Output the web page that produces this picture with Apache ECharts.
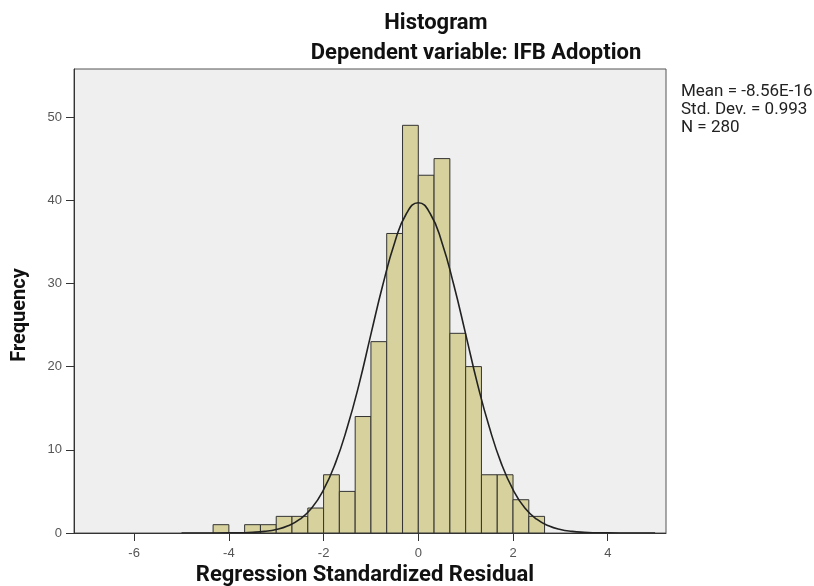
<!DOCTYPE html>
<html>
<head>
<meta charset="utf-8">
<script src="https://cdn.jsdelivr.net/npm/echarts@6/dist/echarts.min.js"></script>
<style>
html,body{margin:0;padding:0;background:#fff;}
#chart{width:814px;height:586px;}
</style>
</head>
<body>
<div id="chart"></div>
<script>
// ---- data ----
const binLeft = [-4.333, -4.0, -3.667, -3.333, -3.0, -2.667, -2.333, -2.0, -1.667, -1.333, -1.0, -0.667, -0.333, 0.0, 0.333, 0.667, 1.0, 1.333, 1.667, 2.0, 2.333];
const binWidth = 0.333;
const counts = [1, 0, 1, 1, 2, 2, 3, 7, 5, 14, 23, 36, 49, 43, 45, 24, 20, 7, 7, 4, 2];

const curveX = [-5, -4.5, -4, -3.75, -3.5, -3.25, -3, -2.75, -2.5, -2.25, -2, -1.75, -1.5, -1.25, -1, -0.75, -0.5, -0.25, 0, 0.25, 0.5, 0.75, 1, 1.25, 1.5, 1.75, 2, 2.25, 2.5, 2.75, 3, 3.25, 3.5, 3.75, 4, 4.5, 5];
const curveY = [0, 0, 0.01, 0.03, 0.08, 0.19, 0.41, 0.86, 1.66, 3.0, 5.2, 8.4, 12.7, 17.9, 23.9, 29.8, 34.9, 38.4, 39.7, 38.4, 34.9, 29.8, 23.9, 17.9, 12.7, 8.4, 5.2, 3.0, 1.66, 0.86, 0.41, 0.19, 0.08, 0.03, 0.01, 0, 0];

const xTicks = [-6, -4, -2, 0, 2, 4];
const yTicks = [0, 10, 20, 30, 40, 50];

const titleText = 'Histogram';
const subtitleText = 'Dependent variable: IFB Adoption';
const xName = 'Regression Standardized Residual';
const yName = 'Frequency';
const statsLines = ['Mean = -8.56E-16', 'Std. Dev. = 0.993', 'N = 280'];

// ---- layout / scale constants ----
const W = 814, H = 586;
const G_LEFT = 74, G_TOP = 69, G_RIGHT = 148, G_BOTTOM = 53;
const X_MIN = -7.27, X_MAX = 5.23, Y_MIN = 0, Y_MAX = 55.77;
const X_STEP = 2, Y_STEP = 10;

const barData = binLeft.map((l, i) => [l, l + binWidth, counts[i]]);
const curveData = curveX.map((x, i) => [x, curveY[i]]);

// helper grids whose axis ends coincide with the first/last tick values,
// so ECharts' own interval ticks land exactly on the main axes' tick values
const pxPerX = (W - G_LEFT - G_RIGHT) / (X_MAX - X_MIN);
const pxPerY = (H - G_TOP - G_BOTTOM) / (Y_MAX - Y_MIN);
const xT0 = xTicks[0], xT1 = xTicks[xTicks.length - 1];
const yT0 = yTicks[0], yT1 = yTicks[yTicks.length - 1];
const gridX = {left: G_LEFT + (xT0 - X_MIN) * pxPerX, right: G_RIGHT + (X_MAX - xT1) * pxPerX,
               top: G_TOP, bottom: G_BOTTOM + (yT0 - Y_MIN) * pxPerY,
               show: false, containLabel: false, outerBoundsMode: 'none'};
const gridY = {left: G_LEFT, right: G_RIGHT,
               top: G_TOP + (Y_MAX - yT1) * pxPerY, bottom: G_BOTTOM + (yT0 - Y_MIN) * pxPerY,
               show: false, containLabel: false, outerBoundsMode: 'none'};

const tickStyle = {show: true, length: 8, inside: false, lineStyle: {color: '#333', width: 1}};
const lineStyle = {show: true, onZero: false, lineStyle: {color: '#333', width: 1}};
const hidden = {show: false};

const chart = echarts.init(document.getElementById('chart'), null, {renderer: 'canvas'});
const option = {
  backgroundColor: '#ffffff',
  animation: false,
  title: [
    {text: titleText, left: 431, top: 7, textAlign: 'center',
     textStyle: {fontFamily: 'Roboto', fontWeight: 'bold', fontSize: 22, color: '#111'}},
    {text: subtitleText, left: 471, top: 37, textAlign: 'center',
     textStyle: {fontFamily: 'Roboto', fontWeight: 'bold', fontSize: 22, color: '#111'}}
  ],
  grid: [
    {left: G_LEFT, top: G_TOP, right: G_RIGHT, bottom: G_BOTTOM, show: true, containLabel: false,
     outerBoundsMode: 'none',
     backgroundColor: '#efefef', borderColor: '#555', borderWidth: 1, z: 0},
    gridX,
    gridY
  ],
  xAxis: [
    {
      type: 'value', min: X_MIN, max: X_MAX, gridIndex: 0, z: 5,
      axisLine: lineStyle,
      axisTick: hidden,
      axisLabel: {customValues: xTicks, color: '#555', fontSize: 13, margin: 14,
                  fontFamily: 'Liberation Sans'},
      splitLine: hidden,
      name: xName, nameLocation: 'middle', nameGap: 31,
      nameTextStyle: {fontFamily: 'Roboto', fontWeight: 'bold', fontSize: 22, color: '#111', padding: [0, 10, 0, 0]}
    },
    {type: 'value', gridIndex: 1, min: xT0, max: xT1, interval: X_STEP, position: 'bottom', z: 5,
     axisLine: lineStyle, axisTick: tickStyle, axisLabel: hidden, splitLine: hidden},
    {type: 'value', gridIndex: 2, show: false}
  ],
  yAxis: [
    {
      type: 'value', min: Y_MIN, max: Y_MAX, gridIndex: 0, z: 5,
      axisLine: lineStyle,
      axisTick: hidden,
      axisLabel: {customValues: yTicks, color: '#555', fontSize: 13, margin: 12,
                  fontFamily: 'Liberation Sans'},
      splitLine: hidden
    },
    {type: 'value', gridIndex: 1, show: false},
    {type: 'value', gridIndex: 2, min: yT0, max: yT1, interval: Y_STEP, position: 'left', z: 5,
     axisLine: lineStyle, axisTick: tickStyle, axisLabel: hidden, splitLine: hidden}
  ],
  graphic: [
    {type: 'text', x: 20, y: 315, rotation: Math.PI / 2,
     style: {text: yName, textAlign: 'center', textVerticalAlign: 'middle',
             font: 'bold 20px Roboto', fill: '#111'}},
    {type: 'text', x: 681, y: 83,
     style: {text: statsLines.join('\n'), lineHeight: 18, textAlign: 'left', textVerticalAlign: 'top',
             font: '17px Roboto', fill: '#222'}}
  ],
  series: [
    {
      type: 'custom',
      xAxisIndex: 0, yAxisIndex: 0,
      data: barData,
      encode: {x: [0, 1], y: 2},
      renderItem: function (params, api) {
        const p0 = api.coord([api.value(0), 0]);
        const p1 = api.coord([api.value(1), api.value(2)]);
        return {
          type: 'rect',
          shape: {x: p0[0], y: p1[1], width: p1[0] - p0[0], height: p0[1] - p1[1]},
          style: {fill: '#d6d19d', stroke: '#333', lineWidth: 1}
        };
      },
      z: 2
    },
    {
      type: 'line',
      xAxisIndex: 0, yAxisIndex: 0,
      data: curveData,
      smooth: true,
      showSymbol: false,
      lineStyle: {color: '#222', width: 1.6},
      z: 3
    }
  ]
};
chart.setOption(option);
</script>
</body>
</html>
